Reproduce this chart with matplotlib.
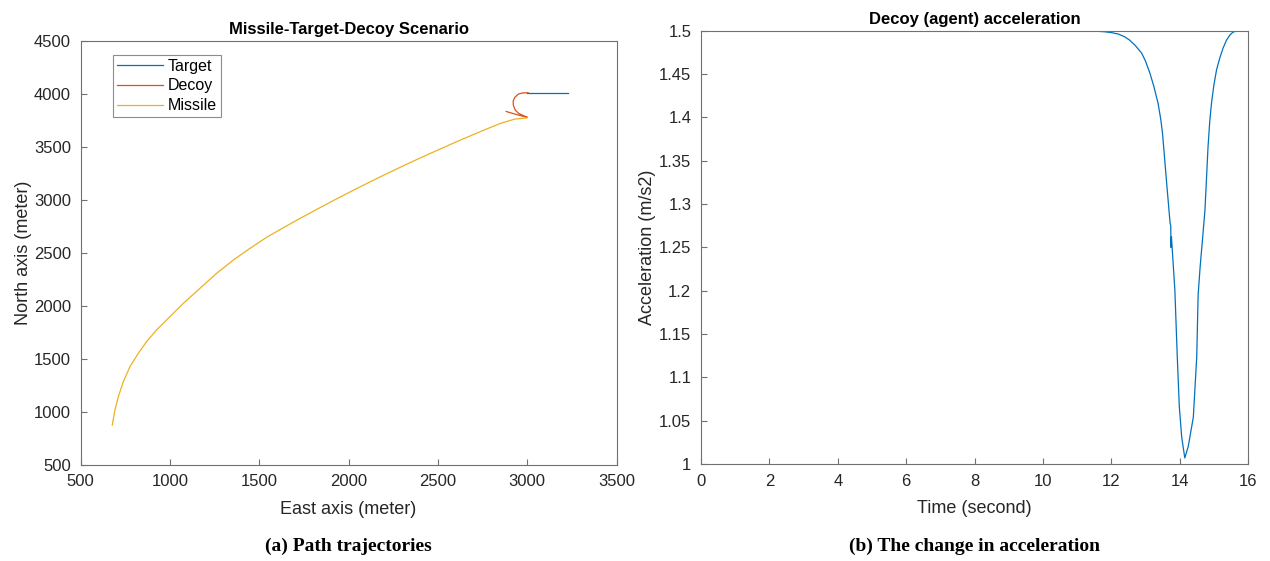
import matplotlib.pyplot as plt
import numpy as np

plt.rcParams["font.family"] = ["Liberation Sans", "DejaVu Sans"]

# (a) path trajectories
target_east = [3000, 3230]
target_north = [4010, 4010]

decoy_east = [3005, 2975, 2951, 2930, 2921, 2922, 2932, 2951, 2975, 3000, 2940, 2882]
decoy_north = [4009, 4007, 3997, 3965, 3930, 3893, 3846, 3815, 3795, 3777, 3803, 3832]

missile_east = [677, 692, 711, 739, 776, 823, 869, 925, 1000, 1075, 1168, 1261, 1355,
                1448, 1541, 1635, 1728, 1821, 1915, 2008, 2101, 2195, 2288, 2381, 2475,
                2570, 2660, 2760, 2850, 2930, 3000]
missile_north = [874, 1016, 1142, 1283, 1425, 1551, 1661, 1771, 1897, 2022, 2164, 2305,
                 2431, 2541, 2645, 2736, 2823, 2908, 2992, 3073, 3152, 3230, 3305, 3378,
                 3450, 3521, 3587, 3658, 3720, 3760, 3772]

# (b) decoy acceleration over time
time_s = [0, 2, 4, 6, 8, 10, 11, 11.5, 11.8, 12.0, 12.2, 12.4, 12.54, 12.7, 12.89, 13.0,
          13.13, 13.25, 13.37, 13.45, 13.5, 13.62, 13.72, 13.74, 13.745, 13.76, 13.86,
          13.93, 13.99, 14.06, 14.15, 14.25, 14.4, 14.5, 14.54, 14.6, 14.67, 14.74, 14.83,
          14.88, 14.93, 15.0, 15.08, 15.17, 15.27, 15.37, 15.47, 15.55, 15.61]
accel = [1.5, 1.5, 1.5, 1.5, 1.5, 1.5, 1.4999, 1.4995, 1.4988, 1.4978, 1.4962, 1.4928,
         1.489, 1.483, 1.474, 1.465, 1.451, 1.435, 1.416, 1.397, 1.381, 1.324, 1.278,
         1.275, 1.25, 1.262, 1.2005, 1.124, 1.066, 1.031, 1.007, 1.02, 1.054, 1.124,
         1.195, 1.228, 1.26, 1.293, 1.366, 1.395, 1.416, 1.437, 1.455, 1.468, 1.48,
         1.489, 1.495, 1.498, 1.499]

blue = "#0072BD"
orange = "#D95319"
yellow = "#EDB120"
axis_col = "#707070"
text_col = "#262626"


def style_axes(ax):
    for s in ax.spines.values():
        s.set_color(axis_col)
        s.set_linewidth(0.8)
    ax.tick_params(direction="in", length=4, width=0.8, color=axis_col,
                   labelcolor=text_col, labelsize=12, top=False, right=False, pad=7)


fig = plt.figure(figsize=(12.7, 5.61), dpi=100)

ax1 = fig.add_axes([0.0635, 0.1717, 0.422, 0.7558])
ax1.plot(target_east, target_north, color=blue, lw=0.9, label="Target")
ax1.plot(decoy_east, decoy_north, color=orange, lw=0.9, label="Decoy")
ax1.plot(missile_east, missile_north, color=yellow, lw=0.9, label="Missile")
ax1.set_xlim(500, 3500)
ax1.set_ylim(500, 4500)
ax1.set_xticks(np.arange(500, 3501, 500))
ax1.set_yticks(np.arange(500, 4501, 500))
style_axes(ax1)
ax1.set_xlabel("East axis (meter)", fontsize=13, color=text_col, labelpad=8)
ax1.set_ylabel("North axis (meter)", fontsize=13, color=text_col, labelpad=1)
ax1.set_title("Missile-Target-Decoy Scenario", fontsize=12, fontweight="bold",
              color="#000000", pad=5)
leg = ax1.legend(loc="upper left", bbox_to_anchor=(0.06, 0.967), fontsize=11.5,
                 frameon=True, fancybox=False, handlelength=2.9, handletextpad=0.3,
                 borderpad=0.25, labelspacing=0.3, borderaxespad=0)
leg.get_frame().set_edgecolor(axis_col)
leg.get_frame().set_linewidth(0.8)

ax2 = fig.add_axes([0.552, 0.1729, 0.4307, 0.7724])
ax2.plot(time_s, accel, color=blue, lw=0.9)
ax2.set_xlim(0, 16)
ax2.set_ylim(1, 1.5)
ax2.set_xticks(np.arange(0, 17, 2))
yt = np.round(np.arange(1.0, 1.5001, 0.05), 2)
ax2.set_yticks(yt)
ax2.set_yticklabels([f"{v:g}" for v in yt])
style_axes(ax2)
ax2.set_xlabel("Time (second)", fontsize=13, color=text_col, labelpad=8)
ax2.set_ylabel("Acceleration (m/s2)", fontsize=13, color=text_col, labelpad=2)
ax2.set_title("Decoy (agent) acceleration", fontsize=12, fontweight="bold",
              color="#000000", pad=5)

fig.text(0.2745, 1 - 546 / 561, "(a) Path trajectories", ha="center", va="center",
         fontsize=14, fontweight="bold", family="Liberation Serif")
fig.text(0.7675, 1 - 546 / 561, "(b) The change in acceleration", ha="center",
         va="center", fontsize=14, fontweight="bold", family="Liberation Serif")

fig.savefig("out.png", dpi=100)
